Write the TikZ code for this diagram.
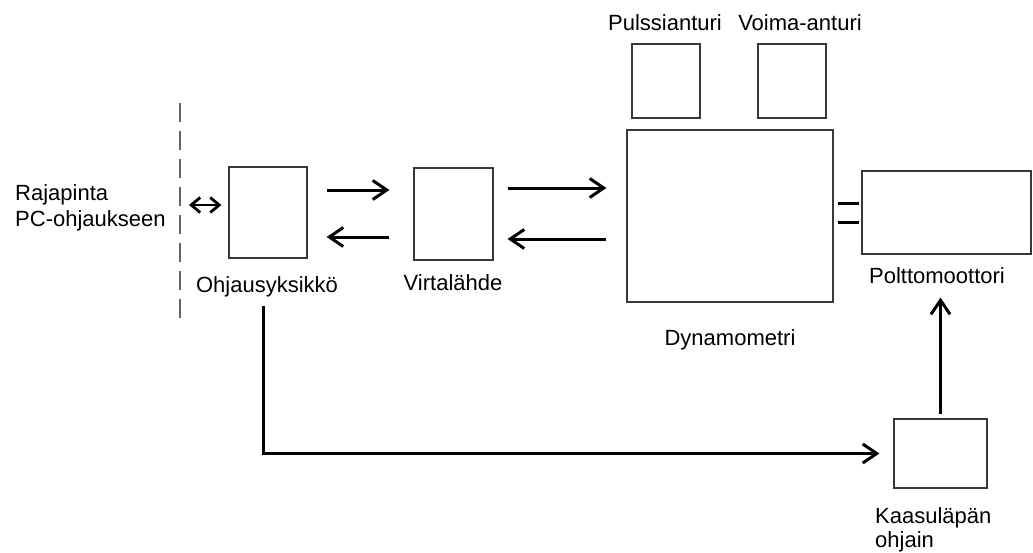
\documentclass[tikz,border=0pt]{standalone}
\usepackage{fontspec}
\setmainfont{Liberation Sans}
\usetikzlibrary{arrows.meta}
\begin{document}
\begin{tikzpicture}[x=1pt,y=-1pt,
  box/.style={draw=black!78, line width=1.2pt, inner sep=0pt},
  lbl/.style={inner sep=0pt, font=\fontsize{22}{25}\selectfont},
  arr/.style={line width=3pt, -{Straight Barb[length=14pt,width=19pt]}},
  dblarr/.style={line width=2.8pt, {Straight Barb[length=9pt,width=15pt]}-{Straight Barb[length=9pt,width=15pt]}},
  coupling/.style={line width=3pt},
  border/.style={draw=black!60, line width=1.3pt, dash pattern=on 19pt off 9pt}
]
\fill[white] (0,0) rectangle (1033,552);
\useasboundingbox (0,0) rectangle (1033,552);

% blocks
\node[box, minimum width=78pt,  minimum height=91pt]  (ohj)   at (268,212.5) {};
\node[box, minimum width=79pt,  minimum height=92pt]  (virt)  at (453.5,214) {};
\node[box, minimum width=206pt, minimum height=172pt] (dyn)   at (730,216) {};
\node[box, minimum width=68pt,  minimum height=74pt]  (puls)  at (666,81) {};
\node[box, minimum width=68pt,  minimum height=74pt]  (voima) at (792,81) {};
\node[box, minimum width=169pt, minimum height=83pt]  (polt)  at (946.5,212.5) {};
\node[box, minimum width=93pt,  minimum height=69pt]  (kaas)  at (940.5,453.5) {};

% labels
\node[lbl, anchor=base west] (lraja) at (15,200) {Rajapinta};
\node[lbl, anchor=base west] (lpc)   at (15,226) {PC-ohjaukseen};
\node[lbl, anchor=base] (lohj)   at (267,292) {Ohjausyksikkö};
\node[lbl, anchor=base] (lvirt)  at (453,290) {Virtalähde};
\node[lbl, anchor=base] (ldyn)   at (730,345) {Dynamometri};
\node[lbl, anchor=base] (lpolt)  at (937,283) {Polttomoottori};
\node[lbl, anchor=base] (lpuls)  at (665,30) {Pulssianturi};
\node[lbl, anchor=base] (lvoima) at (800,30) {Voima-anturi};
\node[lbl, anchor=base west] (lkaas) at (875,523) {Kaasuläpän};
\node[lbl, anchor=base west] (lohjn) at (875,547) {ohjain};

% PC interface boundary
\coordinate (bndtop) at (180,103);
\coordinate (bndbot) at (180,318);
\draw[border] (bndtop) -- (bndbot);
\coordinate (pcif) at (189,205);
\draw[dblarr, shorten >=7pt] (pcif) -- (ohj.west |- pcif);

% control unit <-> power supply
\draw[arr, shorten <=19pt, shorten >=24pt] ([yshift=22.5pt]ohj.east) -- ([yshift=24pt]virt.west);
\draw[arr, shorten <=24pt, shorten >=19pt] ([yshift=-23pt]virt.west) -- ([yshift=-24.5pt]ohj.east);

% power supply <-> dynamometer
\draw[arr, shorten <=14pt, shorten >=20pt] ([yshift=26pt]virt.east) -- ([yshift=28pt]dyn.west);
\draw[arr, shorten <=20pt, shorten >=14pt] ([yshift=-23pt]dyn.west) -- ([yshift=-25pt]virt.east);

% shaft coupling dynamometer = engine
\draw[coupling, shorten <=4pt, shorten >=2pt] ([yshift=13pt]dyn.east) -- ([yshift=9.5pt]polt.west);
\draw[coupling, shorten <=4pt, shorten >=2pt] ([yshift=-6pt]dyn.east) -- ([yshift=-9.5pt]polt.west);

% throttle control path
\coordinate (tap) at (263,306);
\draw[arr, shorten >=14pt] (tap) |- (kaas.west);
\draw[arr, shorten <=4pt, shorten >=43pt] (kaas.north) -- (kaas.north |- polt.south);
\end{tikzpicture}
\end{document}
